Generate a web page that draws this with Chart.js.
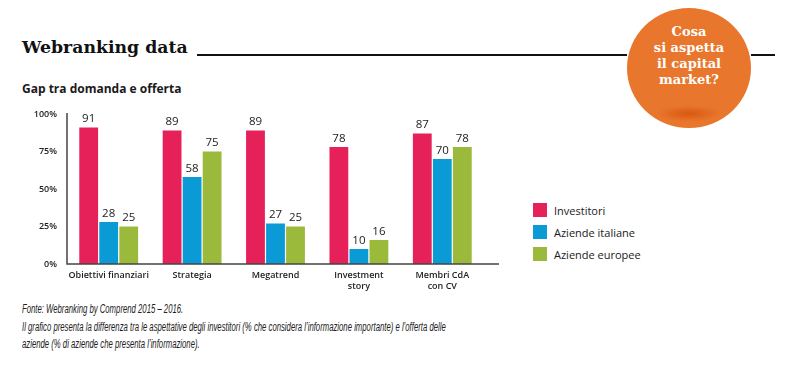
<!DOCTYPE html>
<html>
<head>
<meta charset="utf-8">
<script src="https://cdn.jsdelivr.net/npm/chart.js@4"></script>
<style>
  body { margin: 0; background: #fff; width: 796px; height: 367px; position: relative; overflow: hidden; font-family: "Open Sans", sans-serif; color: #1a1a1a; }
  .title { position: absolute; left: 22px; top: 37px; font: bold 17.3px "DejaVu Serif", serif; color: #111; }
  .rule { position: absolute; top: 54px; height: 2px; background: #111; }
  .badge { position: absolute; left: 627px; top: 8px; width: 124px; height: 120px; border-radius: 50%; background: radial-gradient(ellipse 40px 10px at 50% 88%, #d9580f, #e8762c 80%); }
  .badge div { position: absolute; top: 16px; width: 100%; text-align: center; color: #fff; font: bold 13px/16px "DejaVu Serif", serif; }
  .sub { position: absolute; left: 22px; top: 80px; font: bold 12px "Open Sans", sans-serif; }
  #wrap { position: absolute; left: 0; top: 95px; width: 510px; height: 205px; }
  .legend { position: absolute; left: 533px; top: 199px; font: 11px "Open Sans", sans-serif; }
  .legend div { height: 22px; display: flex; align-items: center; }
  .legend span { display: inline-block; width: 14px; height: 14px; margin-right: 7px; }
  .note { position: absolute; left: 22px; top: 301px; width: 900px; font: italic 12px/17.5px "Liberation Sans", sans-serif; color: #222; transform: scaleX(0.645); transform-origin: 0 0; }
</style>
</head>
<body>
<div class="title">Webranking data</div>
<div class="rule" style="left:197px;width:430px"></div>
<div class="rule" style="left:751px;width:24px"></div>
<div class="badge"><div>Cosa<br>si aspetta<br>il capital<br>market?</div></div>
<div class="sub">Gap tra domanda e offerta</div>
<div id="wrap"><canvas id="chart"></canvas></div>
<div class="legend" id="legend"></div>
<div class="note">Fonte: Webranking by Comprend 2015 – 2016.<br>Il grafico presenta la differenza tra le aspettative degli investitori (% che considera l’informazione importante) e l’offerta delle<br>aziende (% di aziende che presenta l’informazione).</div>
<script>
const categories = [["Obiettivi finanziari"], ["Strategia"], ["Megatrend"], ["Investment", "story"], ["Membri CdA", "con CV"]]
const seriesNames = ["Investitori", "Aziende italiane", "Aziende europee"]
const investitori = [91, 89, 89, 78, 87]
const italiane = [28, 58, 27, 10, 70]
const europee = [25, 75, 25, 16, 78]
const yTicks = [0, 25, 50, 75, 100]
const colors = ["#e6215a", "#0a9bd6", "#9bba3b"]

// labels above bars
const valueLabels = {
  id: "valueLabels",
  afterDatasetsDraw(chart){
    const ctx = chart.ctx
    ctx.save()
    ctx.font = "11.5px 'Open Sans', sans-serif"
    ctx.fillStyle = "#222"
    ctx.textAlign = "center"
    ctx.textBaseline = "bottom"
    chart.data.datasets.forEach((ds, i) => {
      chart.getDatasetMeta(i).data.forEach((bar, j) => {
        ctx.fillText(ds.data[j], bar.x, bar.y - 3)
      })
    })
    ctx.restore()
  }
}

// axis lines
const axisLines = {
  id: "axisLines",
  afterDraw(chart){
    const ctx = chart.ctx
    const a = chart.chartArea
    ctx.save()
    ctx.strokeStyle = "#444"
    ctx.lineWidth = 1.5
    ctx.beginPath()
    ctx.moveTo(a.left, a.top - 1)
    ctx.lineTo(a.left, a.bottom)
    ctx.lineTo(499, a.bottom)
    ctx.stroke()
    ctx.restore()
  }
}

new Chart(document.getElementById("chart"), {
  type: "bar",
  data: {
    labels: categories,
    datasets: [
      { label: seriesNames[0], data: investitori, backgroundColor: colors[0] },
      { label: seriesNames[1], data: italiane, backgroundColor: colors[1] },
      { label: seriesNames[2], data: europee, backgroundColor: colors[2] }
    ]
  },
  options: {
    responsive: true,
    maintainAspectRatio: false,
    animation: false,
    layout: { padding: { top: 19, right: 26, left: 0, bottom: 0 } },
    datasets: { bar: { categoryPercentage: 0.72, barPercentage: 0.94 } },
    plugins: { legend: { display: false }, tooltip: { enabled: false } },
    scales: {
      x: {
        grid: { display: false, drawTicks: false },
        border: { display: false },
        ticks: { color: "#222", autoSkip: false, font: { size: 9, family: "'Open Sans', sans-serif", weight: "600" }, padding: 6, maxRotation: 0 },
        afterFit(s){ s.height = 36 }
      },
      y: {
        min: 0, max: 100,
        afterBuildTicks(s){ s.ticks = yTicks.map(v => ({ value: v })) },
        grid: { display: false, drawTicks: false },
        border: { display: false },
        ticks: { color: "#222", font: { size: 9, family: "'Open Sans', sans-serif", weight: "600" }, padding: 10, callback: v => v + "%" },
        afterFit(s){ s.width = 67 }
      }
    }
  },
  plugins: [valueLabels, axisLines]
})

document.getElementById("legend").innerHTML = seriesNames.map((n, i) =>
  `<div><span style="background:${colors[i]}"></span>${n}</div>`).join("")
</script>
</body>
</html>
